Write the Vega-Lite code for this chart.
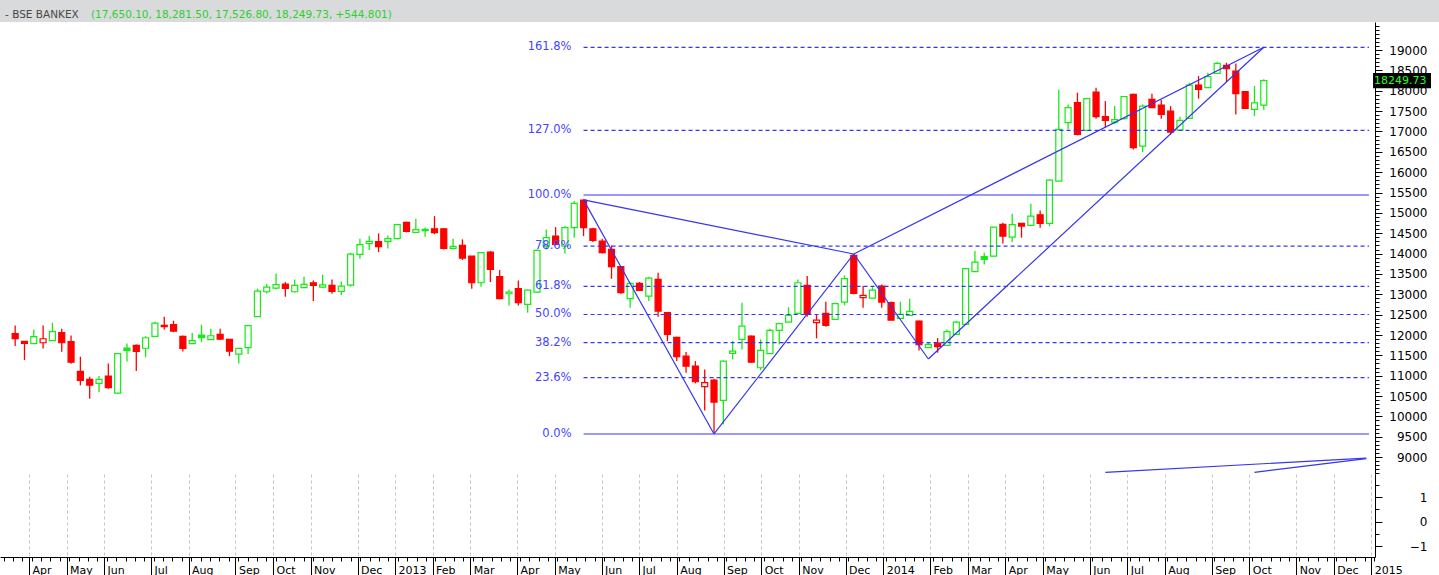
{
  "$schema": "https://vega.github.io/schema/vega-lite/v6.json",
  "padding": 0,
  "autosize": {"type": "pad"},
  "background": "white",
  "spacing": 0,
  "title": {"text": "- BSE BANKEX", "anchor": "start", "orient": "top", "dx": 5, "offset": -20, "font": "DejaVu Sans", "fontSize": 10.5, "fontWeight": "normal", "color": "#484848"},
  "config": {"view": {"stroke": null}, "text": {"font": "DejaVu Sans"}},
  "datasets": {
    "candles": [
      {"d":"2012-03-23","o":12032,"h":12236,"l":11727,"c":11909,"t":"d"},
      {"d":"2012-03-30","o":11843,"h":11843,"l":11383,"c":11794,"t":"d"},
      {"d":"2012-04-06","o":11786,"h":12138,"l":11780,"c":11958,"t":"u"},
      {"d":"2012-04-13","o":11810,"h":12236,"l":11671,"c":11908,"t":"d"},
      {"d":"2012-04-20","o":11860,"h":12302,"l":11855,"c":12081,"t":"u"},
      {"d":"2012-04-27","o":12056,"h":12155,"l":11590,"c":11810,"t":"d"},
      {"d":"2012-05-04","o":11835,"h":11990,"l":11295,"c":11334,"t":"d"},
      {"d":"2012-05-11","o":11106,"h":11467,"l":10762,"c":10885,"t":"d"},
      {"d":"2012-05-18","o":10909,"h":10975,"l":10435,"c":10769,"t":"d"},
      {"d":"2012-05-25","o":10811,"h":10990,"l":10597,"c":10909,"t":"u"},
      {"d":"2012-06-01","o":10990,"h":11302,"l":10680,"c":10705,"t":"d"},
      {"d":"2012-06-08","o":10573,"h":11565,"l":10548,"c":11541,"t":"u"},
      {"d":"2012-06-15","o":11678,"h":11793,"l":11351,"c":11622,"t":"u"},
      {"d":"2012-06-22","o":11744,"h":11767,"l":11114,"c":11597,"t":"d"},
      {"d":"2012-06-29","o":11674,"h":11973,"l":11457,"c":11933,"t":"u"},
      {"d":"2012-07-06","o":11965,"h":12326,"l":11960,"c":12293,"t":"u"},
      {"d":"2012-07-13","o":12204,"h":12449,"l":12138,"c":12236,"t":"d"},
      {"d":"2012-07-20","o":12253,"h":12351,"l":12071,"c":12096,"t":"d"},
      {"d":"2012-07-27","o":11965,"h":11990,"l":11597,"c":11671,"t":"d"},
      {"d":"2012-08-03","o":11786,"h":12056,"l":11780,"c":11860,"t":"u"},
      {"d":"2012-08-10","o":11998,"h":12253,"l":11825,"c":11933,"t":"u"},
      {"d":"2012-08-17","o":11884,"h":12155,"l":11880,"c":11982,"t":"u"},
      {"d":"2012-08-24","o":12015,"h":12155,"l":11875,"c":11900,"t":"d"},
      {"d":"2012-08-31","o":11892,"h":11892,"l":11482,"c":11603,"t":"d"},
      {"d":"2012-09-07","o":11532,"h":11688,"l":11302,"c":11671,"t":"u"},
      {"d":"2012-09-14","o":11688,"h":12253,"l":11532,"c":12229,"t":"u"},
      {"d":"2012-09-21","o":12451,"h":13137,"l":12440,"c":13078,"t":"u"},
      {"d":"2012-09-28","o":13063,"h":13260,"l":13022,"c":13177,"t":"u"},
      {"d":"2012-10-05","o":13152,"h":13514,"l":13120,"c":13236,"t":"u"},
      {"d":"2012-10-12","o":13251,"h":13300,"l":12941,"c":13145,"t":"d"},
      {"d":"2012-10-19","o":13063,"h":13366,"l":13039,"c":13218,"t":"u"},
      {"d":"2012-10-26","o":13162,"h":13432,"l":13155,"c":13243,"t":"u"},
      {"d":"2012-11-02","o":13284,"h":13341,"l":12833,"c":13218,"t":"d"},
      {"d":"2012-11-09","o":13177,"h":13481,"l":13150,"c":13230,"t":"u"},
      {"d":"2012-11-16","o":13218,"h":13366,"l":13014,"c":13071,"t":"d"},
      {"d":"2012-11-23","o":13071,"h":13317,"l":12981,"c":13202,"t":"u"},
      {"d":"2012-11-30","o":13226,"h":14022,"l":13186,"c":13988,"t":"u"},
      {"d":"2012-12-07","o":13980,"h":14366,"l":13875,"c":14219,"t":"u"},
      {"d":"2012-12-14","o":14243,"h":14431,"l":14086,"c":14300,"t":"u"},
      {"d":"2012-12-21","o":14292,"h":14496,"l":14037,"c":14169,"t":"d"},
      {"d":"2012-12-28","o":14300,"h":14447,"l":14128,"c":14366,"t":"u"},
      {"d":"2013-01-04","o":14366,"h":14735,"l":14350,"c":14710,"t":"u"},
      {"d":"2013-01-11","o":14767,"h":14784,"l":14520,"c":14545,"t":"d"},
      {"d":"2013-01-18","o":14521,"h":14857,"l":14513,"c":14587,"t":"u"},
      {"d":"2013-01-25","o":14562,"h":14644,"l":14415,"c":14595,"t":"u"},
      {"d":"2013-02-01","o":14611,"h":14921,"l":14480,"c":14513,"t":"d"},
      {"d":"2013-02-08","o":14611,"h":14627,"l":14103,"c":14128,"t":"d"},
      {"d":"2013-02-15","o":14128,"h":14366,"l":14103,"c":14177,"t":"u"},
      {"d":"2013-02-22","o":14202,"h":14349,"l":13841,"c":13891,"t":"d"},
      {"d":"2013-03-01","o":13939,"h":13939,"l":13137,"c":13284,"t":"d"},
      {"d":"2013-03-08","o":13284,"h":14037,"l":13186,"c":14022,"t":"u"},
      {"d":"2013-03-15","o":14037,"h":14062,"l":13300,"c":13612,"t":"d"},
      {"d":"2013-03-22","o":13432,"h":13595,"l":12880,"c":12892,"t":"d"},
      {"d":"2013-03-29","o":13014,"h":13120,"l":12727,"c":13054,"t":"u"},
      {"d":"2013-04-05","o":13137,"h":13341,"l":12727,"c":12793,"t":"d"},
      {"d":"2013-04-12","o":12752,"h":13120,"l":12548,"c":13103,"t":"u"},
      {"d":"2013-04-19","o":13054,"h":14103,"l":13040,"c":14078,"t":"u"},
      {"d":"2013-04-26","o":14184,"h":14594,"l":14103,"c":14390,"t":"u"},
      {"d":"2013-05-03","o":14430,"h":14651,"l":14220,"c":14225,"t":"d"},
      {"d":"2013-05-10","o":14184,"h":14676,"l":14005,"c":14636,"t":"u"},
      {"d":"2013-05-17","o":14636,"h":15290,"l":14390,"c":15233,"t":"u"},
      {"d":"2013-05-24","o":15315,"h":15332,"l":14430,"c":14636,"t":"d"},
      {"d":"2013-05-31","o":14611,"h":14636,"l":14283,"c":14324,"t":"d"},
      {"d":"2013-06-07","o":14307,"h":14366,"l":14005,"c":14022,"t":"d"},
      {"d":"2013-06-14","o":14103,"h":14201,"l":13382,"c":13678,"t":"d"},
      {"d":"2013-06-21","o":13678,"h":13693,"l":13014,"c":13039,"t":"d"},
      {"d":"2013-06-28","o":12892,"h":13284,"l":12670,"c":13268,"t":"u"},
      {"d":"2013-07-05","o":13268,"h":13300,"l":13090,"c":13096,"t":"d"},
      {"d":"2013-07-12","o":12956,"h":13432,"l":12833,"c":13398,"t":"u"},
      {"d":"2013-07-19","o":13366,"h":13530,"l":12450,"c":12587,"t":"d"},
      {"d":"2013-07-26","o":12548,"h":12563,"l":11850,"c":12015,"t":"d"},
      {"d":"2013-08-02","o":11941,"h":11958,"l":11359,"c":11467,"t":"d"},
      {"d":"2013-08-09","o":11482,"h":11580,"l":11073,"c":11236,"t":"d"},
      {"d":"2013-08-16","o":11236,"h":11359,"l":10811,"c":10852,"t":"d"},
      {"d":"2013-08-23","o":10730,"h":11155,"l":10147,"c":10828,"t":"d"},
      {"d":"2013-08-30","o":10892,"h":10926,"l":9599,"c":10351,"t":"d"},
      {"d":"2013-09-06","o":10393,"h":11376,"l":9803,"c":11359,"t":"u"},
      {"d":"2013-09-13","o":11547,"h":11850,"l":11400,"c":11604,"t":"u"},
      {"d":"2013-09-20","o":11892,"h":12793,"l":11646,"c":12219,"t":"u"},
      {"d":"2013-09-27","o":11973,"h":11990,"l":11320,"c":11334,"t":"d"},
      {"d":"2013-10-04","o":11196,"h":11892,"l":11138,"c":11622,"t":"u"},
      {"d":"2013-10-11","o":11540,"h":12155,"l":11535,"c":12114,"t":"u"},
      {"d":"2013-10-18","o":12114,"h":12302,"l":11769,"c":12278,"t":"u"},
      {"d":"2013-10-25","o":12316,"h":12685,"l":12310,"c":12481,"t":"u"},
      {"d":"2013-11-01","o":12531,"h":13366,"l":12506,"c":13284,"t":"u"},
      {"d":"2013-11-08","o":13218,"h":13448,"l":12450,"c":12506,"t":"d"},
      {"d":"2013-11-15","o":12302,"h":12506,"l":11917,"c":12366,"t":"d"},
      {"d":"2013-11-22","o":12531,"h":12818,"l":12204,"c":12236,"t":"d"},
      {"d":"2013-11-29","o":12383,"h":12793,"l":12380,"c":12769,"t":"u"},
      {"d":"2013-12-06","o":12808,"h":13464,"l":12727,"c":13383,"t":"u"},
      {"d":"2013-12-13","o":13955,"h":13980,"l":13000,"c":13022,"t":"d"},
      {"d":"2013-12-20","o":12916,"h":13202,"l":12670,"c":12973,"t":"d"},
      {"d":"2013-12-27","o":12907,"h":13177,"l":12900,"c":13103,"t":"u"},
      {"d":"2014-01-03","o":13202,"h":13243,"l":12670,"c":12808,"t":"d"},
      {"d":"2014-01-10","o":12793,"h":12826,"l":12360,"c":12366,"t":"d"},
      {"d":"2014-01-17","o":12408,"h":12818,"l":12400,"c":12506,"t":"u"},
      {"d":"2014-01-24","o":12481,"h":12892,"l":12475,"c":12580,"t":"u"},
      {"d":"2014-01-31","o":12342,"h":12359,"l":11622,"c":11761,"t":"d"},
      {"d":"2014-02-07","o":11688,"h":11825,"l":11680,"c":11769,"t":"u"},
      {"d":"2014-02-14","o":11801,"h":11924,"l":11565,"c":11712,"t":"d"},
      {"d":"2014-02-21","o":11745,"h":12138,"l":11740,"c":12081,"t":"u"},
      {"d":"2014-02-28","o":12014,"h":12342,"l":12010,"c":12318,"t":"u"},
      {"d":"2014-03-07","o":12260,"h":13650,"l":12255,"c":13629,"t":"u"},
      {"d":"2014-03-14","o":13555,"h":14062,"l":13550,"c":13790,"t":"u"},
      {"d":"2014-03-21","o":13924,"h":14022,"l":13735,"c":13857,"t":"u"},
      {"d":"2014-03-28","o":13939,"h":14651,"l":13930,"c":14651,"t":"u"},
      {"d":"2014-04-04","o":14717,"h":14759,"l":14251,"c":14430,"t":"d"},
      {"d":"2014-04-11","o":14405,"h":14980,"l":14283,"c":14710,"t":"u"},
      {"d":"2014-04-18","o":14742,"h":14742,"l":14390,"c":14677,"t":"d"},
      {"d":"2014-04-25","o":14693,"h":15226,"l":14690,"c":14921,"t":"u"},
      {"d":"2014-05-02","o":14955,"h":15061,"l":14636,"c":14742,"t":"d"},
      {"d":"2014-05-09","o":14742,"h":15823,"l":14676,"c":15806,"t":"u"},
      {"d":"2014-05-16","o":15782,"h":18034,"l":15775,"c":17052,"t":"u"},
      {"d":"2014-05-23","o":17216,"h":17666,"l":17052,"c":17585,"t":"u"},
      {"d":"2014-05-30","o":17708,"h":17953,"l":16904,"c":16929,"t":"d"},
      {"d":"2014-06-06","o":17027,"h":17830,"l":17020,"c":17806,"t":"u"},
      {"d":"2014-06-13","o":17968,"h":18076,"l":17315,"c":17364,"t":"d"},
      {"d":"2014-06-20","o":17364,"h":17747,"l":17093,"c":17273,"t":"d"},
      {"d":"2014-06-27","o":17231,"h":17624,"l":17175,"c":17290,"t":"u"},
      {"d":"2014-07-04","o":17315,"h":17870,"l":17297,"c":17855,"t":"u"},
      {"d":"2014-07-11","o":17912,"h":17929,"l":16560,"c":16602,"t":"d"},
      {"d":"2014-07-18","o":16641,"h":17666,"l":16494,"c":17624,"t":"u"},
      {"d":"2014-07-25","o":17789,"h":17929,"l":17580,"c":17585,"t":"d"},
      {"d":"2014-08-01","o":17649,"h":17771,"l":17315,"c":17420,"t":"d"},
      {"d":"2014-08-08","o":17501,"h":17624,"l":16929,"c":16986,"t":"d"},
      {"d":"2014-08-15","o":17034,"h":17364,"l":17030,"c":17273,"t":"u"},
      {"d":"2014-08-22","o":17322,"h":18199,"l":17320,"c":18140,"t":"u"},
      {"d":"2014-08-29","o":18140,"h":18361,"l":17806,"c":18034,"t":"d"},
      {"d":"2014-09-05","o":18076,"h":18444,"l":18070,"c":18346,"t":"u"},
      {"d":"2014-09-12","o":18427,"h":18705,"l":18420,"c":18673,"t":"u"},
      {"d":"2014-09-19","o":18624,"h":18690,"l":18214,"c":18542,"t":"d"},
      {"d":"2014-09-26","o":18484,"h":18673,"l":17420,"c":17929,"t":"d"},
      {"d":"2014-10-03","o":17978,"h":17978,"l":17560,"c":17568,"t":"d"},
      {"d":"2014-10-10","o":17543,"h":18116,"l":17378,"c":17705,"t":"u"},
      {"d":"2014-10-17","o":17650.1,"h":18281.5,"l":17526.8,"c":18249.73,"t":"u"}
    ],
    "fib": [
      {"lbl":"161.8%","p":19069,"st":"dash","d":"2013-05-24","d2":"2015-01-04"},
      {"lbl":"127.0%","p":17025,"st":"dash","d":"2013-05-24","d2":"2015-01-04"},
      {"lbl":"100.0%","p":15440,"st":"solid","d":"2013-05-24","d2":"2015-01-04"},
      {"lbl":"78.6%","p":14183,"st":"dash","d":"2013-05-24","d2":"2015-01-04"},
      {"lbl":"61.8%","p":13197,"st":"dash","d":"2013-05-24","d2":"2015-01-04"},
      {"lbl":"50.0%","p":12504,"st":"dash","d":"2013-05-24","d2":"2015-01-04"},
      {"lbl":"38.2%","p":11811,"st":"dash","d":"2013-05-24","d2":"2015-01-04"},
      {"lbl":"23.6%","p":10954,"st":"dash","d":"2013-05-24","d2":"2015-01-04"},
      {"lbl":"0.0%","p":9568,"st":"solid","d":"2013-05-24","d2":"2015-01-04"}
    ],
    "trend": [
      {"seg":"A","d":"2013-05-24","p":15320},{"seg":"A","d":"2013-08-30","p":9568},
      {"seg":"B","d":"2013-08-30","p":9568},{"seg":"B","d":"2013-12-13","p":13990},
      {"seg":"C","d":"2013-12-13","p":13990},{"seg":"C","d":"2014-02-07","p":11410},
      {"seg":"D","d":"2014-02-07","p":11410},{"seg":"D","d":"2014-10-17","p":19069},
      {"seg":"E","d":"2013-05-24","p":15320},{"seg":"E","d":"2013-12-13","p":13990},
      {"seg":"F","d":"2013-12-13","p":13990},{"seg":"F","d":"2014-10-17","p":19069},
      {"seg":"G","d":"2014-06-20","p":8627},{"seg":"G","d":"2015-01-02","p":8975},
      {"seg":"H","d":"2014-10-10","p":8627},{"seg":"H","d":"2015-01-02","p":8962}
    ],
    "last": [{"c":18249.73,"lbl":"18249.73"}]
  },
  "vconcat": [
    {
      "width": 1439,
      "height": 22,
      "view": {"fill": "#d9dadc", "stroke": null},
      "title": {"text": "(17,650.10, 18,281.50, 17,526.80, 18,249.73, +544.801)", "anchor": "start", "orient": "top", "dx": 91, "offset": -20, "font": "DejaVu Sans", "fontSize": 10.5, "fontWeight": "normal", "color": "#2fcf2f"},
      "data": {"values": [{"t": ""}]},
      "mark": {"type": "text"},
      "encoding": {"text": {"field": "t"}}
    },
    {
      "width": 1375,
      "height": 452,
      "view": {"stroke": null},
      "resolve": {"axis": {"y": "independent"}},
      "layer": [
        {
          "data": {"name": "candles"},
          "mark": {"type": "rule", "strokeWidth": 1.3, "clip": true},
          "encoding": {
            "x": {"field": "d", "type": "temporal", "scale": {"type": "utc", "domain": [{"year":2012,"month":3,"date":15,"hours":9,"utc":true},{"year":2015,"month":1,"date":4,"hours":19,"utc":true}]},
              "axis": {"values": [
                {"year":2012,"month":4,"date":6,"utc":true},{"year":2012,"month":5,"date":4,"utc":true},{"year":2012,"month":6,"date":1,"utc":true},{"year":2012,"month":7,"date":6,"utc":true},{"year":2012,"month":8,"date":3,"utc":true},{"year":2012,"month":9,"date":7,"utc":true},{"year":2012,"month":10,"date":5,"utc":true},{"year":2012,"month":11,"date":2,"utc":true},{"year":2012,"month":12,"date":7,"utc":true},
                {"year":2013,"month":1,"date":4,"utc":true},{"year":2013,"month":2,"date":1,"utc":true},{"year":2013,"month":3,"date":1,"utc":true},{"year":2013,"month":4,"date":5,"utc":true},{"year":2013,"month":5,"date":3,"utc":true},{"year":2013,"month":6,"date":7,"utc":true},{"year":2013,"month":7,"date":5,"utc":true},{"year":2013,"month":8,"date":2,"utc":true},{"year":2013,"month":9,"date":6,"utc":true},{"year":2013,"month":10,"date":4,"utc":true},{"year":2013,"month":11,"date":1,"utc":true},{"year":2013,"month":12,"date":6,"utc":true},
                {"year":2014,"month":1,"date":3,"utc":true},{"year":2014,"month":2,"date":7,"utc":true},{"year":2014,"month":3,"date":7,"utc":true},{"year":2014,"month":4,"date":4,"utc":true},{"year":2014,"month":5,"date":2,"utc":true},{"year":2014,"month":6,"date":6,"utc":true},{"year":2014,"month":7,"date":4,"utc":true},{"year":2014,"month":8,"date":1,"utc":true},{"year":2014,"month":9,"date":5,"utc":true},{"year":2014,"month":10,"date":3,"utc":true},{"year":2014,"month":11,"date":7,"utc":true},{"year":2014,"month":12,"date":5,"utc":true},
                {"year":2015,"month":1,"date":2,"utc":true}],
                "labels": false, "ticks": false, "domain": true, "domainColor": "#8c8c8c", "domainWidth": 3, "grid": true, "gridDash": [3, 3], "gridColor": "#c4c4c4", "gridWidth": 1, "title": null}},
            "y": {"field": "l", "type": "quantitative", "scale": {"domain": [8585, 19690], "nice": false, "zero": false},
              "axis": {"orient": "right", "format": "d", "values": [9000,9500,10000,10500,11000,11500,12000,12500,13000,13500,14000,14500,15000,15500,16000,16500,17000,17500,18000,18500,19000], "tickSize": 7, "tickColor": "#000000", "domainColor": "#000000", "labelAlign": "right", "labelBaseline": "middle", "labelPadding": 45, "labelFont": "DejaVu Sans", "labelFontSize": 12, "labelColor": "#000000", "labelOverlap": false, "grid": false, "title": null}},
            "y2": {"field": "h"},
            "color": {"field": "t", "type": "nominal", "scale": {"domain": ["u", "d"], "range": ["#14ec14", "#ff0000"]}, "legend": null}
          }
        },
        {
          "data": {"name": "candles"},
          "mark": {"type": "bar", "width": 6, "strokeWidth": 1.2, "clip": true},
          "encoding": {
            "x": {"field": "d", "type": "temporal", "scale": {"type": "utc", "domain": [{"year":2012,"month":3,"date":15,"hours":9,"utc":true},{"year":2015,"month":1,"date":4,"hours":19,"utc":true}]}, "axis": null},
            "y": {"field": "o", "type": "quantitative", "scale": {"domain": [8585, 19690], "nice": false, "zero": false},
              "axis": {"orient": "right", "tickCount": 110, "labels": false, "tickSize": 4, "tickColor": "#000000", "domain": false, "grid": false, "title": null}},
            "y2": {"field": "c"},
            "stroke": {"field": "t", "type": "nominal", "scale": {"domain": ["u", "d"], "range": ["#14ec14", "#ff0000"]}, "legend": null},
            "fill": {"field": "t", "type": "nominal", "scale": {"domain": ["u", "d"], "range": ["#14ec14", "#ff0000"]}, "legend": null, "condition": {"test": "datum.c > datum.o", "value": "#ffffff"}}
          }
        },
        {
          "data": {"name": "fib"},
          "mark": {"type": "text", "align": "right", "baseline": "middle", "dx": -12, "font": "DejaVu Sans", "fontSize": 11.5, "color": "#4545ff"},
          "encoding": {
            "x": {"field": "d", "type": "temporal", "scale": {"type": "utc", "domain": [{"year":2012,"month":3,"date":15,"hours":9,"utc":true},{"year":2015,"month":1,"date":4,"hours":19,"utc":true}]}, "axis": null},
            "y": {"field": "p", "type": "quantitative", "scale": {"domain": [8585, 19690], "nice": false, "zero": false}, "axis": null},
            "text": {"field": "lbl"}
          }
        },
        {
          "data": {"name": "fib"},
          "mark": {"type": "rule", "clip": true, "color": "#3434ff", "strokeWidth": 1.2},
          "encoding": {
            "x": {"field": "d", "type": "temporal", "scale": {"type": "utc", "domain": [{"year":2012,"month":3,"date":15,"hours":9,"utc":true},{"year":2015,"month":1,"date":4,"hours":19,"utc":true}]}, "axis": null},
            "x2": {"field": "d2"},
            "y": {"field": "p", "type": "quantitative", "scale": {"domain": [8585, 19690], "nice": false, "zero": false}, "axis": null},
            "strokeDash": {"field": "st", "type": "nominal", "scale": {"domain": ["solid", "dash"], "range": [[1, 0], [4, 3]]}, "legend": null}
          }
        },
        {
          "data": {"name": "trend"},
          "mark": {"type": "line", "clip": true, "color": "#3535f0", "strokeWidth": 1.2},
          "encoding": {
            "x": {"field": "d", "type": "temporal", "scale": {"type": "utc", "domain": [{"year":2012,"month":3,"date":15,"hours":9,"utc":true},{"year":2015,"month":1,"date":4,"hours":19,"utc":true}]}, "axis": null},
            "y": {"field": "p", "type": "quantitative", "scale": {"domain": [8585, 19690], "nice": false, "zero": false}, "axis": null},
            "detail": {"field": "seg", "type": "nominal"}
          }
        },
        {
          "data": {"name": "last"},
          "mark": {"type": "point", "shape": "M0.05,-0.125H1V0.125H0.05Z", "filled": true, "fill": "#000000", "stroke": null, "opacity": 1, "size": 14884, "clip": false},
          "encoding": {
            "x": {"datum": {"year":2015,"month":1,"date":4,"hours":19,"utc":true}, "type": "temporal", "scale": {"type": "utc", "domain": [{"year":2012,"month":3,"date":15,"hours":9,"utc":true},{"year":2015,"month":1,"date":4,"hours":19,"utc":true}]}, "axis": null},
            "y": {"field": "c", "type": "quantitative", "scale": {"domain": [8585, 19690], "nice": false, "zero": false}, "axis": null}
          }
        },
        {
          "data": {"name": "last"},
          "mark": {"type": "text", "align": "left", "baseline": "middle", "dx": 4, "font": "DejaVu Sans", "fontSize": 11, "color": "#22ff22", "clip": false},
          "encoding": {
            "x": {"datum": {"year":2015,"month":1,"date":4,"hours":19,"utc":true}, "type": "temporal", "scale": {"type": "utc", "domain": [{"year":2012,"month":3,"date":15,"hours":9,"utc":true},{"year":2015,"month":1,"date":4,"hours":19,"utc":true}]}, "axis": null},
            "y": {"field": "c", "type": "quantitative", "scale": {"domain": [8585, 19690], "nice": false, "zero": false}, "axis": null},
            "text": {"field": "lbl"}
          }
        }
      ]
    },
    {
      "width": 1375,
      "height": 83,
      "view": {"stroke": null},
      "resolve": {"axis": {"x": "independent", "y": "independent"}},
      "layer": [
        {
          "data": {"name": "candles"},
          "mark": {"type": "point", "opacity": 0},
          "encoding": {
            "x": {"field": "d", "type": "temporal", "scale": {"type": "utc", "domain": [{"year":2012,"month":3,"date":15,"hours":9,"utc":true},{"year":2015,"month":1,"date":4,"hours":19,"utc":true}]},
              "axis": {"orient": "bottom", "values": [
                {"year":2012,"month":4,"date":6,"utc":true},{"year":2012,"month":5,"date":4,"utc":true},{"year":2012,"month":6,"date":1,"utc":true},{"year":2012,"month":7,"date":6,"utc":true},{"year":2012,"month":8,"date":3,"utc":true},{"year":2012,"month":9,"date":7,"utc":true},{"year":2012,"month":10,"date":5,"utc":true},{"year":2012,"month":11,"date":2,"utc":true},{"year":2012,"month":12,"date":7,"utc":true},
                {"year":2013,"month":1,"date":4,"utc":true},{"year":2013,"month":2,"date":1,"utc":true},{"year":2013,"month":3,"date":1,"utc":true},{"year":2013,"month":4,"date":5,"utc":true},{"year":2013,"month":5,"date":3,"utc":true},{"year":2013,"month":6,"date":7,"utc":true},{"year":2013,"month":7,"date":5,"utc":true},{"year":2013,"month":8,"date":2,"utc":true},{"year":2013,"month":9,"date":6,"utc":true},{"year":2013,"month":10,"date":4,"utc":true},{"year":2013,"month":11,"date":1,"utc":true},{"year":2013,"month":12,"date":6,"utc":true},
                {"year":2014,"month":1,"date":3,"utc":true},{"year":2014,"month":2,"date":7,"utc":true},{"year":2014,"month":3,"date":7,"utc":true},{"year":2014,"month":4,"date":4,"utc":true},{"year":2014,"month":5,"date":2,"utc":true},{"year":2014,"month":6,"date":6,"utc":true},{"year":2014,"month":7,"date":4,"utc":true},{"year":2014,"month":8,"date":1,"utc":true},{"year":2014,"month":9,"date":5,"utc":true},{"year":2014,"month":10,"date":3,"utc":true},{"year":2014,"month":11,"date":7,"utc":true},{"year":2014,"month":12,"date":5,"utc":true},
                {"year":2015,"month":1,"date":2,"utc":true}],
                "labelExpr": "utcmonth(datum.value) == 0 ? utcFormat(datum.value, '%Y') : utcFormat(datum.value, '%b')",
                "labelAlign": "left", "labelBaseline": "top", "labelPadding": -12, "labelOffset": 3, "labelFlush": false, "labelOverlap": false, "labelBound": false,
                "labelFont": "DejaVu Sans", "labelFontSize": 11, "labelColor": "#000000",
                "tickSize": 19, "tickColor": "#000000", "domainColor": "#000000",
                "grid": true, "gridDash": [3, 3], "gridColor": "#c4c4c4", "title": null}},
            "y": {"datum": 0, "type": "quantitative", "scale": {"domain": [-1.449, 1.939], "nice": false, "zero": false},
              "axis": {"orient": "right", "values": [-1, 0, 1], "tickSize": 7, "tickColor": "#000000", "domainColor": "#000000", "labelAlign": "right", "labelBaseline": "middle", "labelPadding": 45, "labelFont": "DejaVu Sans", "labelFontSize": 12, "labelColor": "#000000", "grid": false, "title": null}}
          }
        },
        {
          "data": {"name": "candles"},
          "mark": {"type": "point", "opacity": 0},
          "encoding": {
            "x": {"field": "d", "type": "temporal", "scale": {"type": "utc", "domain": [{"year":2012,"month":3,"date":15,"hours":9,"utc":true},{"year":2015,"month":1,"date":4,"hours":19,"utc":true}]},
              "axis": {"orient": "bottom", "tickCount": {"interval": "week", "step": 1}, "labels": false, "tickSize": 4, "tickColor": "#000000", "domain": false, "grid": false, "title": null}},
            "y": {"datum": 0, "type": "quantitative", "scale": {"domain": [-1.449, 1.939], "nice": false, "zero": false},
              "axis": {"orient": "right", "values": [-0.5, 0.5, 1.5], "labels": false, "tickSize": 4, "tickColor": "#000000", "domain": false, "grid": false, "title": null}}
          }
        }
      ]
    }
  ]
}
